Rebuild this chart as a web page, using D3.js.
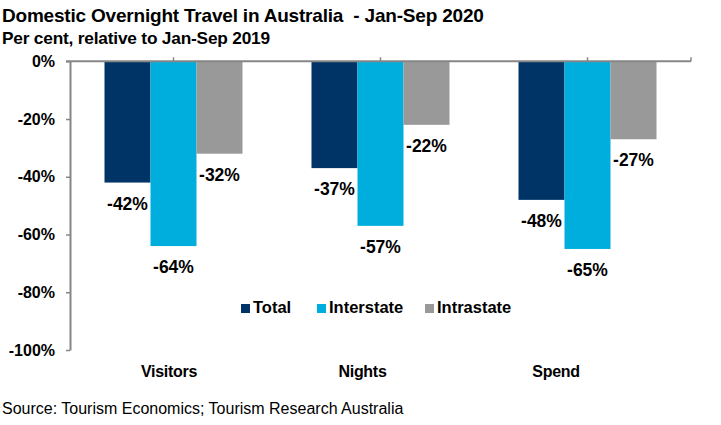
<!DOCTYPE html>
<html>
<head>
<meta charset="utf-8">
<script src="https://cdn.jsdelivr.net/npm/d3@7"></script>
<style>
  body { margin: 0; background: #fff; }
  text { font-family: "Liberation Sans", Arial, sans-serif; font-weight: bold; fill: #000; white-space: pre; }
</style>
</head>
<body>
<div id="chart"></div>
<script>
// chart data
let categories = ["Visitors", "Nights", "Spend"];
let series = ["Total", "Interstate", "Intrastate"];
let total = [-42, -37, -48];
let interstate = [-64, -57, -65];
let intrastate = [-32, -22, -27];
let y_ticks = [0, -20, -40, -60, -80, -100];

let colors = { Total: "#003466", Interstate: "#00AEDD", Intrastate: "#999999" };

let width = 721;
let height = 425;
let margin = { top: 61.3, right: 30, bottom: 75, left: 70 };

let rows = categories.map((c, i) => ({
  category: c,
  values: [
    { key: "Total", value: total[i] },
    { key: "Interstate", value: interstate[i] },
    { key: "Intrastate", value: intrastate[i] },
  ],
}));

let svg = d3.select("#chart")
  .append("svg")
  .attr("width", width)
  .attr("height", height);

let x = d3.scaleBand()
  .domain(categories)
  .range([margin.left, 691])
  .paddingInner(0)
  .paddingOuter(0);

let x_inner = d3.scaleBand()
  .domain(series)
  .range([0, x.bandwidth() * 2 / 3]);

let y = d3.scaleLinear()
  .domain([0, -100])
  .range([margin.top, 350]);

let pct = d => d + "%";

// title
svg.append("text")
  .attr("x", 2)
  .attr("y", 22)
  .style("font-size", "19px")
  .style("letter-spacing", "-0.2px")
  .text("Domestic Overnight Travel in Australia  - Jan-Sep 2020");

svg.append("text")
  .attr("x", 2)
  .attr("y", 44)
  .style("font-size", "17.3px")
  .style("letter-spacing", "-0.2px")
  .text("Per cent, relative to Jan-Sep 2019");

// bars
let groups = svg.append("g")
  .selectAll("g")
  .data(rows)
  .join("g")
  .attr("transform", d => `translate(${x(d.category) + x.bandwidth() / 6},0)`);

groups.selectAll("rect")
  .data(d => d.values)
  .join("rect")
  .attr("x", d => x_inner(d.key))
  .attr("y", y(0))
  .attr("width", x_inner.bandwidth())
  .attr("height", d => y(d.value) - y(0))
  .attr("fill", d => colors[d.key]);

groups.selectAll(".label")
  .data(d => d.values)
  .join("text")
  .attr("class", "label")
  .attr("x", d => x_inner(d.key) + x_inner.bandwidth() / 2)
  .attr("y", d => y(d.value) + 27)
  .attr("text-anchor", "middle")
  .style("font-size", "17.5px")
  .text(d => pct(d.value));

// y axis
let y_axis = svg.append("g")
  .attr("transform", `translate(${margin.left},0)`)
  .call(d3.axisLeft(y).tickValues(y_ticks).tickFormat(pct).tickSizeInner(4).tickSizeOuter(0).tickPadding(11));
y_axis.select(".domain").attr("stroke", "#868686").attr("stroke-width", 2);
y_axis.selectAll(".tick line").attr("stroke", "#868686").attr("stroke-width", 1.5);
y_axis.selectAll(".tick text")
  .style("font-family", "'Liberation Sans', Arial, sans-serif")
  .style("font-weight", "bold")
  .style("font-size", "16px")
  .attr("fill", "#000");

// category axis along zero line, ticks at category centres pointing up
let x_axis = svg.append("g")
  .attr("transform", `translate(0,${y(0)})`);
x_axis.append("line")
  .attr("x1", margin.left - 4)
  .attr("x2", x.range()[1])
  .attr("stroke", "#868686")
  .attr("stroke-width", 2);
x_axis.selectAll(".xtick")
  .data(categories.map(c => x(c) + x.bandwidth() / 2).concat([x.range()[1]]))
  .join("line")
  .attr("class", "xtick")
  .attr("x1", d => d)
  .attr("x2", d => d)
  .attr("y1", 0)
  .attr("y2", -4)
  .attr("stroke", "#868686")
  .attr("stroke-width", 1.5);

// category labels
let label_x = d3.scalePoint().domain(categories).range([169, 556]);
svg.append("g")
  .selectAll("text")
  .data(categories)
  .join("text")
  .attr("x", d => label_x(d))
  .attr("y", 377)
  .attr("text-anchor", "middle")
  .style("font-size", "16px")
  .style("letter-spacing", "-0.3px")
  .text(d => d);

// legend
let legend_pos = [241, 317, 425];
let legend = svg.append("g")
  .selectAll("g")
  .data(series)
  .join("g")
  .attr("transform", (d, i) => `translate(${legend_pos[i]},${313})`);
legend.append("rect")
  .attr("x", 0)
  .attr("y", -9)
  .attr("width", 9)
  .attr("height", 9)
  .attr("fill", d => colors[d]);
legend.append("text")
  .attr("x", 12)
  .attr("y", 0)
  .style("font-size", "16.5px")
  .text(d => d);

// source
svg.append("text")
  .attr("x", 2)
  .attr("y", 414)
  .style("font-size", "16px")
  .style("font-weight", "normal")
  .text("Source: Tourism Economics; Tourism Research Australia");
</script>
</body>
</html>
